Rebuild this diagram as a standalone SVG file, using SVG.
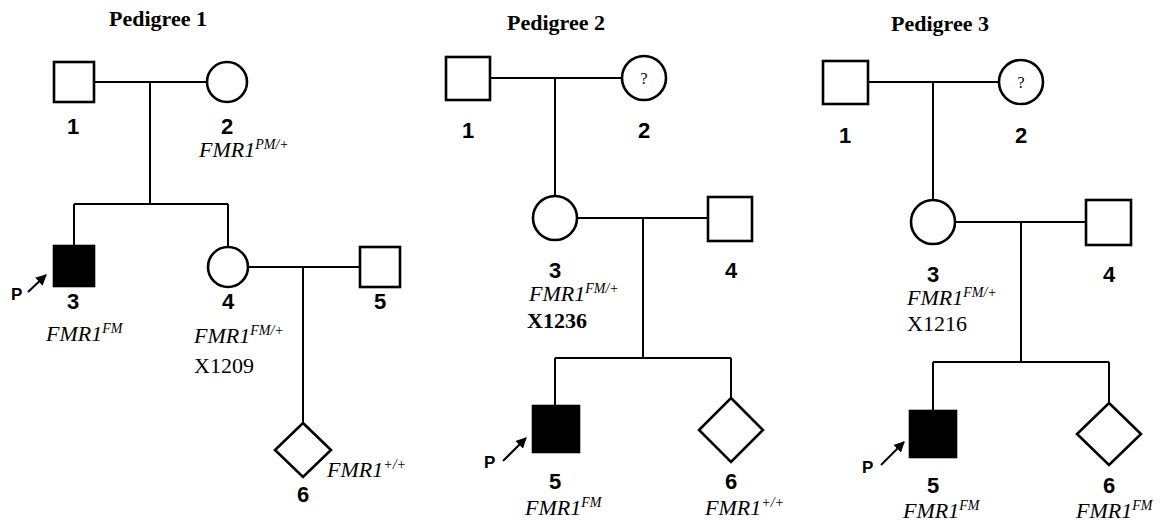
<svg xmlns="http://www.w3.org/2000/svg" width="1163" height="521" viewBox="0 0 1163 521">
<style>
.sym{fill:#fff;stroke:#000;stroke-width:2.6}
.aff{fill:#000;stroke:#000;stroke-width:2.6}
.ln{fill:none;stroke:#000;stroke-width:2}
text{fill:#000}
.title{font-family:"Liberation Serif",serif;font-weight:bold;font-size:22px;text-anchor:middle}
.num{font-family:"Liberation Sans",sans-serif;font-weight:bold;font-size:22px;text-anchor:middle}
.gen{font-family:"Liberation Serif",serif;font-style:italic;font-size:22px}
.sup{font-size:14px}
.xid{font-family:"Liberation Serif",serif;font-size:22px}
.q{font-family:"Liberation Serif",serif;font-size:16px;text-anchor:middle}
.p{font-family:"Liberation Sans",sans-serif;font-weight:bold;font-size:17px}
.arr{fill:none;stroke:#000;stroke-width:2;marker-end:url(#ah)}
</style>
<defs>
<marker id="ah" viewBox="0 0 10 10" refX="9" refY="5" markerWidth="5.5" markerHeight="5.5" orient="auto" markerUnits="strokeWidth">
<path d="M0,0 L10,5 L0,10 z" fill="#000"/>
</marker>
</defs>
<rect width="1163" height="521" fill="#fff"/>

<text class="title" x="158" y="26">Pedigree 1</text>
<text class="title" x="556" y="30">Pedigree 2</text>
<text class="title" x="940" y="31">Pedigree 3</text>

<g id="connectors">
<!-- Pedigree 1 -->
<path class="ln" d="M94,82 H207 M150,82 V204 M74,204 H228 M74,204 V246 M228,204 V247 M248,267 H360 M303,267 V423"/>
<path class="arr" d="M28,292 L46,275"/>
<!-- Pedigree 2 -->
<path class="ln" d="M490,78 H622 M555,78 V197 M577,218 H708 M643,218 V358 M555,358 H731 M555,358 V406 M731,358 V398"/>
<path class="arr" d="M503,461 L526,438"/>
<!-- Pedigree 3 -->
<path class="ln" d="M869,82 H999 M933,82 V200 M955,222 H1086 M1021,222 V362 M933,362 H1109 M933,362 V411 M1109,362 V403"/>
<path class="arr" d="M881,465 L904,442"/>
</g>

<!-- Pedigree 1 nodes -->
<g id="p1-1"><rect class="sym" x="54" y="62" width="40" height="40"/><text class="num" x="73" y="134">1</text></g>
<g id="p1-2"><circle class="sym" cx="227" cy="82" r="20"/><text class="num" x="227" y="134">2</text>
<text class="gen" x="199" y="157">FMR1<tspan class="sup" dy="-8">PM/+</tspan></text></g>
<g id="p1-3"><rect class="aff" x="54" y="246" width="40" height="40"/><text class="num" x="73" y="309">3</text>
<text class="gen" x="46" y="341">FMR1<tspan class="sup" dy="-8">FM</tspan></text>
<text class="p" x="11" y="300">P</text></g>
<g id="p1-4"><circle class="sym" cx="228" cy="267" r="20"/><text class="num" x="228" y="309">4</text>
<text class="gen" x="194" y="343">FMR1<tspan class="sup" dy="-8">FM/+</tspan></text>
<text class="xid" x="194" y="373">X1209</text></g>
<g id="p1-5"><rect class="sym" x="360" y="247" width="40" height="40"/><text class="num" x="380" y="309">5</text></g>
<g id="p1-6"><polygon class="sym" points="303,423 331,450 303,477 275,450"/><text class="num" x="303" y="502">6</text>
<text class="gen" x="327" y="477">FMR1<tspan class="sup" dy="-8">+/+</tspan></text></g>

<!-- Pedigree 2 nodes -->
<g id="p2-1"><rect class="sym" x="446" y="57" width="44" height="43"/><text class="num" x="468" y="138">1</text></g>
<g id="p2-2"><circle class="sym" cx="644" cy="78" r="22"/><text class="q" x="644" y="84">?</text><text class="num" x="644" y="138">2</text></g>
<g id="p2-3"><circle class="sym" cx="555" cy="218" r="22"/><text class="num" x="555" y="278">3</text>
<text class="gen" x="529" y="301">FMR1<tspan class="sup" dy="-8">FM/+</tspan></text>
<text class="xid" x="527" y="328" font-weight="bold">X1236</text></g>
<g id="p2-4"><rect class="sym" x="708" y="197" width="44" height="44"/><text class="num" x="731" y="278">4</text></g>
<g id="p2-5"><rect class="aff" x="533" y="406" width="46" height="46"/><text class="num" x="555" y="489">5</text>
<text class="gen" x="525" y="515">FMR1<tspan class="sup" dy="-8">FM</tspan></text>
<text class="p" x="484" y="468">P</text></g>
<g id="p2-6"><polygon class="sym" points="731,398 763,430 731,462 699,430"/><text class="num" x="731" y="489">6</text>
<text class="gen" x="705" y="515">FMR1<tspan class="sup" dy="-8">+/+</tspan></text></g>

<!-- Pedigree 3 nodes -->
<g id="p3-1"><rect class="sym" x="823" y="61" width="45" height="43"/><text class="num" x="845" y="143">1</text></g>
<g id="p3-2"><circle class="sym" cx="1021" cy="82" r="22"/><text class="q" x="1021" y="88">?</text><text class="num" x="1021" y="143">2</text></g>
<g id="p3-3"><circle class="sym" cx="933" cy="222" r="22"/><text class="num" x="933" y="282">3</text>
<text class="gen" x="907" y="305">FMR1<tspan class="sup" dy="-8">FM/+</tspan></text>
<text class="xid" x="907" y="331">X1216</text></g>
<g id="p3-4"><rect class="sym" x="1086" y="200" width="45" height="45"/><text class="num" x="1109" y="282">4</text></g>
<g id="p3-5"><rect class="aff" x="910" y="411" width="46" height="46"/><text class="num" x="933" y="493">5</text>
<text class="gen" x="903" y="518">FMR1<tspan class="sup" dy="-8">FM</tspan></text>
<text class="p" x="862" y="473">P</text></g>
<g id="p3-6"><polygon class="sym" points="1109,403 1141,434 1109,465 1077,434"/><text class="num" x="1109" y="493">6</text>
<text class="gen" x="1076" y="518">FMR1<tspan class="sup" dy="-8">FM</tspan></text></g>
</svg>
